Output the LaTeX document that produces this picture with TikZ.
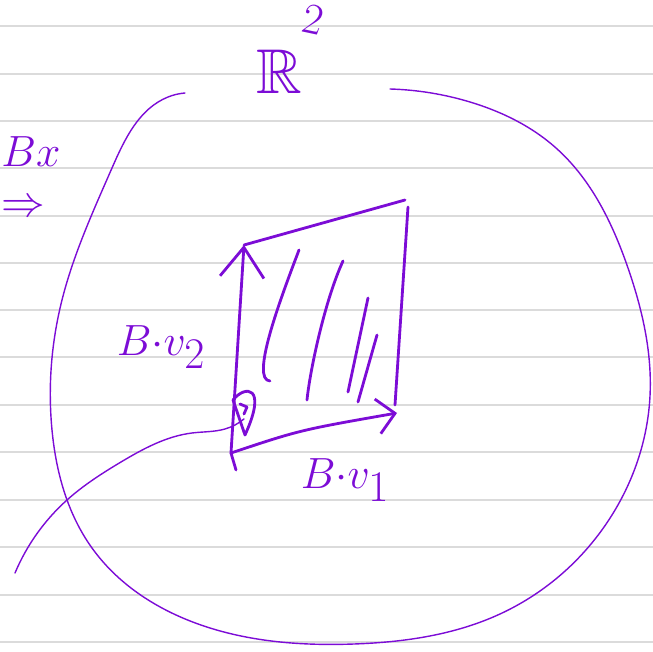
\documentclass[tikz,border=0pt]{standalone}
\usepackage{amsmath,amssymb}
\usepackage{xcolor}
\usetikzlibrary{arrows.meta,calc,hobby}
\definecolor{ink}{RGB}{124,12,214}

\begin{document}
\begin{tikzpicture}[
  x=0.02cm, y=-0.02cm,
  ruled/.style={draw=gray!28, line width=0.6pt},
  pen/.style={draw=ink, line width=1.6pt, line cap=round, line join=round},
  thinpen/.style={draw=ink, line width=0.8pt, line cap=round},
  label/.style={text=ink, font=\fontsize{33}{36}\selectfont, inner sep=0pt},
]
\useasboundingbox (0,0) rectangle (653,652);
\clip (0,0) rectangle (653,652);

% ruled paper
\foreach \y in {26,74,121,168,216,263,310,357,405,452,500,547,595,642}
  \draw[ruled] (0,\y) -- (653,\y);

% the plane
\node[label, font=\fontsize{36}{38}\selectfont] (R) at (279,72) {$\mathbb{R}$};
\node[text=ink, font=\fontsize{24}{26}\selectfont, inner sep=0pt, rotate=-12] (Rexp) at (313,20) {$2$};
\draw[thinpen, use Hobby shortcut] (185,93) .. (168,97) .. (112,168) .. (62,300)
  .. (52,430) .. (92,548) .. (210,628) .. (354,644) .. (500,614)
  .. (612,515) .. (650,396) .. (628,268) .. (556,148) .. (470,102) .. (390,89);

% parallelogram corners
\coordinate (O) at (231,453);
\coordinate (V2) at (244,245);
\coordinate (V1) at (397,413);
\coordinate (S) at (405,200);
\coordinate (Sb) at (395,405);

\draw[pen] (236,470) -- (O);
\draw[pen, -{Straight Barb[length=17pt,width=25pt,line width=1.6pt]}] (O) -- (V2);
\draw[pen] (V2) -- (S);
\draw[pen] (408,207) -- (Sb);
\draw[pen, -{Straight Barb[length=10pt,width=20pt,line width=1.6pt]}] (O) .. controls (300,430) .. (V1);

% shading strokes
\draw[pen] (299,250) .. controls (280,300) and (250,380) .. (270,381);
\draw[pen] (343,261) .. controls (325,300) and (310,370) .. (307,400);
\draw[pen] (368,298) -- (348,392);
\draw[pen] (377,335) -- (358,402);

% angle mark and pointer
\draw[pen] (233,400) .. controls (245,385) and (268,385) .. (245,435) -- cycle;
\draw[pen] (240,404) -- (247,407) -- (244,414);
\draw[thinpen, use Hobby shortcut] (15,573) .. (67,500) .. (121,462) .. (192,433)
  .. (225,429) .. (244,419);

% labels
\node[label] (Bv2) at (161,347) {$B{\cdot}v_2$};
\node[label] (Bv1) at (345,480) {$B{\cdot}v_1$};

% margin notes
\node[label, anchor=west] (Bx) at (1,152) {$Bx$};
\node[text=ink, font=\fontsize{40}{40}\selectfont, inner sep=0pt, anchor=west] (impl) at (1,208) {$\Rightarrow$};
\end{tikzpicture}
\end{document}
